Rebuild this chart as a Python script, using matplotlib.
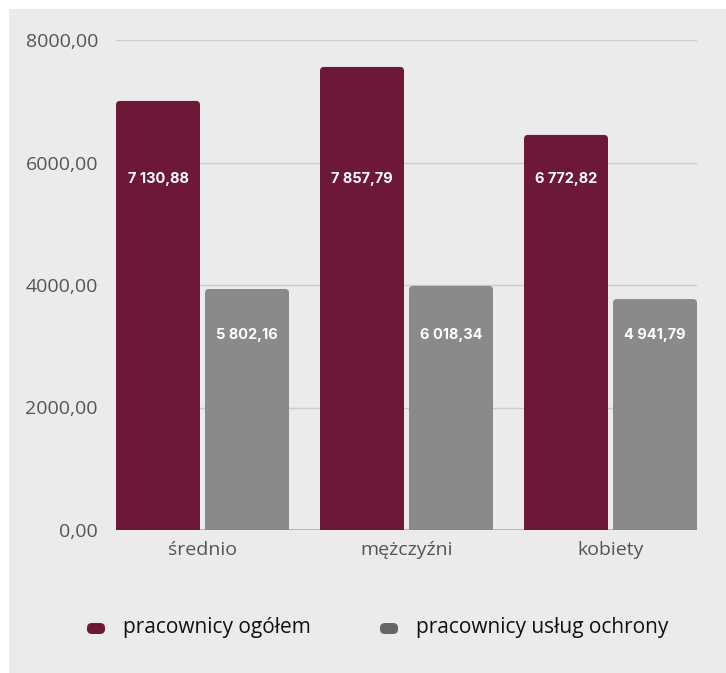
import numpy as np
import matplotlib.pyplot as plt
from matplotlib.patches import FancyBboxPatch, Rectangle

# Data
categories = ['średnio', 'mężczyźni', 'kobiety']
series_names = ['pracownicy ogółem', 'pracownicy usług ochrony']
total_heights = [7005, 7560, 6450]
security_heights = [3935, 3985, 3770]
total_labels = ['7 130,88', '7 857,79', '6 772,82']
security_labels = ['5 802,16', '6 018,34', '4 941,79']
yticks = [0, 2000, 4000, 6000, 8000]
ytick_labels = ['0,00', '2000,00', '4000,00', '6000,00', '8000,00']

maroon = '#6d1838'
grey = '#8a8a8a'
panel = '#ebebeb'

W, H = 726, 673
fig = plt.figure(figsize=(W / 100, H / 100), dpi=100)
fig.patch.set_facecolor('white')
fig.patches.append(Rectangle((9 / W, 0), 1, 1 - 9 / H, transform=fig.transFigure,
                             facecolor=panel, edgecolor='none', zorder=-10))

ax = fig.add_axes([116 / W, 1 - 530 / H, (697 - 116) / W, (530 - 40) / H])
ax.set_facecolor('none')
ax.set_xlim(-0.424, 2.424)
ax.set_ylim(0, 8000)

px_x = 1 / 204.0
px_y = 8000 / 490.0
bar_w = 84 * px_x
offset = 44.5 * px_x
r = 4 * px_x

x = np.arange(len(categories))
for heights, color, dx in [(total_heights, maroon, -offset), (security_heights, grey, offset)]:
    for xi, h in zip(x, heights):
        p = FancyBboxPatch((xi + dx - bar_w / 2, -200), bar_w, h + 200,
                           boxstyle=f'round,pad=0,rounding_size={r}',
                           mutation_aspect=px_y / px_x,
                           facecolor=color, edgecolor='none', zorder=3)
        ax.add_patch(p)

for xi, lab in zip(x, total_labels):
    ax.text(xi - offset, 5730, lab, ha='center', va='center', color='white',
            fontsize=10.5, fontweight='bold', family='Inter', zorder=4)
for xi, lab in zip(x, security_labels):
    ax.text(xi + offset, 3185, lab, ha='center', va='center', color='white',
            fontsize=10.5, fontweight='bold', family='Inter', zorder=4)

ax.set_yticks(yticks)
ax.set_yticklabels(ytick_labels, family='Open Sans', fontsize=14, color='#555555')
ax.set_xticks(x)
ax.set_xticklabels(categories, family='Open Sans', fontsize=14, color='#555555')
ax.tick_params(axis='y', length=0, pad=13)
ax.tick_params(axis='x', length=0, pad=8)
ax.grid(axis='y', color='#cccccc', linewidth=1.0, zorder=1)
for s in ax.spines.values():
    s.set_visible(False)
ax.axhline(0, color='#b0b0b0', linewidth=1.2, zorder=2)

# Legend
legend_items = [(96, maroon, series_names[0]), (389, '#666666', series_names[1])]
for cx, col, name in legend_items:
    fig.patches.append(FancyBboxPatch(((cx - 9) / W, 1 - 634 / H), 18 / W, 11 / H,
                                      boxstyle='round,pad=0,rounding_size=0.007',
                                      transform=fig.transFigure, facecolor=col,
                                      edgecolor='none', zorder=2))
    fig.text((cx + 27) / W, 1 - 627 / H, name, ha='left', va='center',
             fontsize=15, family='Open Sans', color='#111111')

fig.savefig('out.png', dpi=100)
